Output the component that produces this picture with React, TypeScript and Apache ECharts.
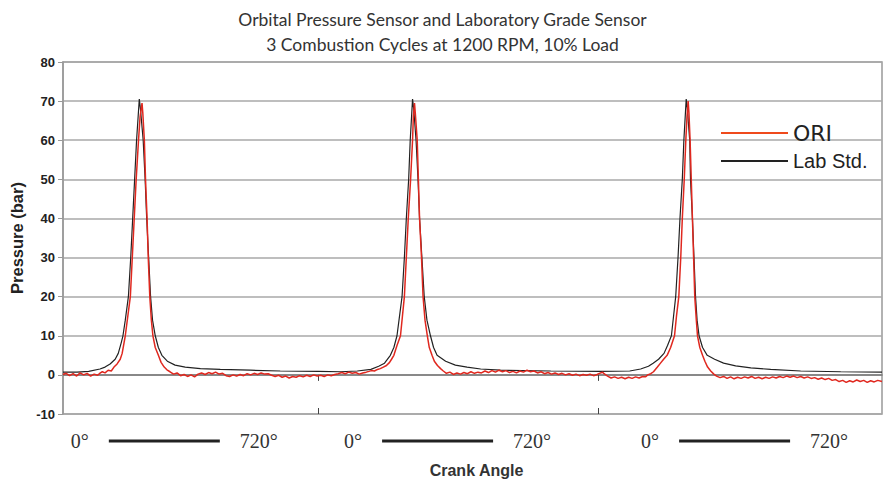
import React, { useEffect, useRef } from "react";
import * as echarts from "echarts";

const titleLines = [
  "Orbital Pressure Sensor and Laboratory Grade Sensor",
  "3 Combustion Cycles at 1200 RPM, 10% Load",
];
const yTicks = { min: -10, max: 80, interval: 10 };
const xRange = { min: 64, max: 2168 };
const cycleBoundaries = [720, 1440];
const cycleLabelCenters = [350, 1052, 1815];
const cycleStartLabel = "0°";
const cycleEndLabel = "720°";
const seriesNames = ["ORI", "Lab Std."];

// Lab Std. (black) : [crank angle, pressure bar]
const labStd: number[][] = [
  [64, 0.7], [100, 0.7], [130, 0.9], [159, 1.5], [172, 2.0], [185, 2.8], [198, 4.0], [206, 5.5], [213, 8], [218, 10],
  [224, 14], [232, 20], [238, 30], [243, 40], [248, 50], [253, 60], [257, 66], [260, 70.5], [263, 68], [270, 60],
  [275, 50], [279, 40], [284, 30], [289, 20], [294, 14], [301, 10], [309, 7], [318, 5], [332, 3.5], [352, 2.5],
  [378, 2.0], [417, 1.6], [468, 1.4], [545, 1.2], [622, 1.0], [720, 0.9], [777, 0.8], [820, 1.0], [855, 1.4],
  [875, 2.2], [890, 3.0], [905, 5.0], [914, 7], [922, 10], [935, 20], [941, 30], [946, 40], [952, 50], [956, 60],
  [960, 67], [962, 70.5], [965, 68], [971, 60], [976, 50], [980, 40], [986, 30], [992, 20], [999, 14], [1008, 10],
  [1016, 7], [1025, 5], [1047, 3.5], [1072, 2.5], [1102, 2.0], [1137, 1.5], [1188, 1.2], [1317, 1.0], [1445, 0.9],
  [1520, 1.0], [1548, 1.5], [1568, 2.2], [1580, 3.0], [1594, 4.0], [1608, 5.5], [1617, 7.5], [1627, 10], [1638, 20],
  [1644, 30], [1649, 40], [1655, 50], [1659, 60], [1663, 67], [1665, 70.5], [1668, 68], [1674, 60], [1676, 50],
  [1681, 40], [1685, 30], [1689, 20], [1693, 14], [1698, 10], [1707, 7], [1719, 5], [1738, 4], [1761, 3],
  [1792, 2.3], [1831, 1.8], [1882, 1.4], [1959, 1.0], [2062, 0.8], [2168, 0.7],
];

// ORI (red) : [crank angle, pressure bar]
const ori: number[][] = [
  [64, 0.1], [72, 0.4], [81, -0.2], [90, 0.3], [99, -0.3], [108, 0.5], [117, 0.0], [126, 0.4], [135, -0.3], [144, 0.2],
  [153, -0.1], [160, 0.5], [165, 0.8], [172, 0.5], [180, 1.2], [188, 1.0], [195, 2.0], [203, 2.8], [211, 4.0], [216, 5.5],
  [224, 10], [237, 20], [242, 30], [247, 40], [252, 50], [258, 60], [262, 66], [267, 69.5], [269, 67], [273, 60],
  [276, 50], [280, 40], [283, 30], [287, 20], [291, 14], [295, 10], [301, 7], [309, 5], [316, 3.2], [324, 2.0],
  [331, 1.3], [339, 0.8], [348, 0.2], [357, 0.5], [366, -0.2], [375, 0.1], [384, -0.4], [393, 0.0], [402, -0.5],
  [411, 0.2], [420, 0.5], [429, 0.1], [438, 0.6], [447, 0.3], [456, 0.7], [465, 0.2], [474, 0.4], [483, -0.2],
  [492, -0.4], [501, 0.0], [510, -0.3], [519, 0.1], [528, -0.2], [537, 0.3], [546, 0.0], [555, 0.4], [564, 0.1],
  [573, 0.5], [582, 0.2], [591, 0.3], [600, -0.1], [609, -0.4], [618, -0.1], [627, -0.6], [636, -0.3], [645, -0.8],
  [654, -0.4], [663, -0.6], [672, -0.2], [681, -0.5], [690, -0.1], [699, -0.4], [708, 0.0], [717, -0.3], [726, -0.1],
  [735, -0.4], [744, 0.0], [753, -0.2], [762, 0.1], [771, 0.3], [780, 0.6], [789, 0.3], [798, 0.7], [807, 0.4],
  [816, 0.6], [825, 0.2], [834, 0.5], [843, 0.7], [850, 0.9], [856, 1.1], [864, 1.0], [872, 1.4], [879, 1.6],
  [887, 2.0], [895, 2.4], [903, 3.2], [908, 4.0], [914, 5], [922, 7.5], [931, 10], [941, 20], [946, 30], [951, 40],
  [957, 50], [962, 60], [964, 66], [967, 69.5], [969, 67], [974, 60], [977, 50], [980, 40], [985, 30], [989, 20],
  [994, 14], [1000, 10], [1005, 7], [1012, 5], [1018, 3.5], [1026, 2.4], [1034, 1.6], [1041, 1.0], [1049, 0.4],
  [1058, 0.7], [1067, 0.1], [1076, 0.5], [1085, 0.2], [1094, 0.6], [1103, 0.3], [1112, 0.8], [1121, 0.4], [1130, 0.7],
  [1139, 0.5], [1148, 1.0], [1157, 0.6], [1166, 1.1], [1175, 0.7], [1184, 1.2], [1193, 0.8], [1202, 1.1], [1211, 0.6],
  [1220, 0.9], [1229, 0.5], [1238, 1.0], [1247, 0.7], [1256, 1.2], [1265, 0.8], [1274, 1.0], [1283, 0.5], [1292, 0.8],
  [1301, 0.3], [1310, 0.6], [1319, 0.2], [1328, 0.5], [1337, 0.1], [1346, 0.4], [1355, 0.0], [1364, 0.3], [1373, -0.1],
  [1382, 0.2], [1391, -0.2], [1400, 0.1], [1409, -0.1], [1418, 0.2], [1427, -0.2], [1436, 0.1], [1445, 0.5], [1450, 0.7],
  [1454, 0.3], [1463, -0.3], [1472, -0.8], [1481, -0.5], [1490, -0.9], [1499, -0.6], [1508, -1.0], [1517, -0.6],
  [1526, -0.9], [1535, -0.5], [1544, -0.8], [1553, -0.4], [1561, -0.5], [1566, 0.0], [1574, 0.3], [1581, 0.8],
  [1591, 2], [1599, 3], [1607, 4], [1616, 5], [1625, 7], [1635, 10], [1640, 15], [1646, 20], [1651, 30], [1655, 40],
  [1660, 50], [1664, 60], [1667, 66], [1670, 70], [1672, 67], [1675, 60], [1678, 50], [1681, 40], [1684, 30],
  [1687, 20], [1691, 14], [1694, 10], [1700, 7], [1707, 5], [1713, 3.5], [1720, 2.0], [1728, 1.0], [1736, 0.2],
  [1743, -0.3], [1752, -0.7], [1761, -0.4], [1770, -0.9], [1779, -0.5], [1788, -1.0], [1797, -0.6], [1806, -0.9],
  [1815, -0.5], [1824, -0.8], [1833, -0.4], [1842, -0.9], [1851, -0.6], [1860, -1.0], [1869, -0.6], [1878, -0.9],
  [1887, -0.5], [1896, -0.8], [1905, -0.4], [1914, -0.7], [1923, -0.3], [1932, -0.6], [1941, -0.3], [1950, -0.7],
  [1959, -0.4], [1968, -0.8], [1977, -0.5], [1986, -0.9], [1995, -0.7], [2004, -1.1], [2013, -0.8], [2022, -1.2],
  [2031, -0.9], [2040, -1.4], [2049, -1.2], [2058, -1.7], [2067, -1.4], [2076, -1.9], [2085, -1.5], [2094, -1.8],
  [2103, -1.3], [2112, -1.7], [2121, -1.4], [2130, -1.9], [2139, -1.5], [2148, -1.8], [2157, -1.4], [2168, -1.7],
];

export default function App() {
  const ref = useRef<HTMLDivElement>(null);
  useEffect(() => {
    document.body.style.margin = "0";
    if (!ref.current) return;
    const chart = echarts.init(ref.current, undefined, { renderer: "svg" });
    chart.setOption({
      animation: false,
      backgroundColor: "#ffffff",
      textStyle: { fontFamily: "Liberation Sans" },
      title: {
        text: titleLines.join("\n"),
        left: "center",
        top: 2,
        textStyle: {
          fontFamily: "Lato",
          fontSize: 17.5,
          fontWeight: "normal",
          color: "#333333",
          lineHeight: 25,
        },
      },
      legend: {
        orient: "vertical",
        left: 716,
        top: 117,
        itemWidth: 67,
        itemHeight: 2,
        itemGap: 7,
        icon: "rect",
        data: [
          {
            name: seriesNames[0],
            itemStyle: { color: "#ef4a1c" },
            textStyle: { fontFamily: "DejaVu Sans", fontSize: 22, color: "#222222" },
          },
          {
            name: seriesNames[1],
            itemStyle: { color: "#222222" },
            textStyle: { fontFamily: "Liberation Sans", fontSize: 20, color: "#222222" },
          },
        ],
      },
      grid: {
        left: 63,
        right: 3,
        top: 62,
        bottom: 67,
        outerBoundsMode: "none",
        containLabel: false,
        show: true,
        borderColor: "#999999",
        borderWidth: 1.5,
      },
      xAxis: [
        {
          type: "value",
          min: xRange.min,
          max: xRange.max,
          name: "Crank Angle",
          nameLocation: "middle",
          nameGap: 48,
          nameTextStyle: { fontFamily: "Liberation Sans", fontWeight: "bold", fontSize: 16, color: "#333333", padding: [0, 0, 0, 8] },
          splitLine: { show: false },
          axisLine: { show: true, lineStyle: { color: "#777777", width: 1.5 } },
          axisTick: { show: true, length: 6, customValues: cycleBoundaries, lineStyle: { color: "#444444" } },
          axisLabel: {
            show: true,
            margin: 17,
            customValues: cycleLabelCenters,
            formatter: () => `{a|${cycleStartLabel}}{s| }{b| }{s| }{a|${cycleEndLabel}}`,
            rich: {
              a: { fontFamily: "Liberation Serif", fontSize: 20, color: "#333333" },
              s: { width: 20 },
              b: { width: 111, height: 3, backgroundColor: "#222222", verticalAlign: "middle" },
            },
          },
        },
        {
          type: "value",
          min: xRange.min,
          max: xRange.max,
          position: "bottom",
          splitLine: { show: false },
          axisLine: { show: false },
          axisLabel: { show: false },
          axisTick: { show: true, inside: true, length: 6, customValues: cycleBoundaries, lineStyle: { color: "#444444" } },
        },
      ],
      yAxis: {
        type: "value",
        min: yTicks.min,
        max: yTicks.max,
        interval: yTicks.interval,
        name: "Pressure (bar)",
        nameLocation: "middle",
        nameGap: 38,
        nameTextStyle: { fontFamily: "Liberation Sans", fontWeight: "bold", fontSize: 16.5, color: "#222222" },
        axisLine: { show: true, lineStyle: { color: "#999999", width: 1.5 } },
        axisTick: { show: true, length: 5, lineStyle: { color: "#999999" } },
        axisLabel: { fontFamily: "Liberation Sans", fontWeight: "bold", fontSize: 13, color: "#222222", margin: 8 },
        splitLine: { show: true, lineStyle: { color: "#a8a8a8", width: 1.5 } },
      },
      series: [
        {
          name: seriesNames[1],
          type: "line",
          data: labStd,
          showSymbol: false,
          lineStyle: { color: "#222222", width: 1.2 },
          itemStyle: { color: "#222222" },
          z: 2,
        },
        {
          name: seriesNames[0],
          type: "line",
          data: ori,
          showSymbol: false,
          lineStyle: { color: "#e0281f", width: 1.5 },
          itemStyle: { color: "#e0281f" },
          z: 3,
        },
      ],
    });
    return () => chart.dispose();
  }, []);
  return <div ref={ref} style={{ width: 885, height: 481 }} />;
}
